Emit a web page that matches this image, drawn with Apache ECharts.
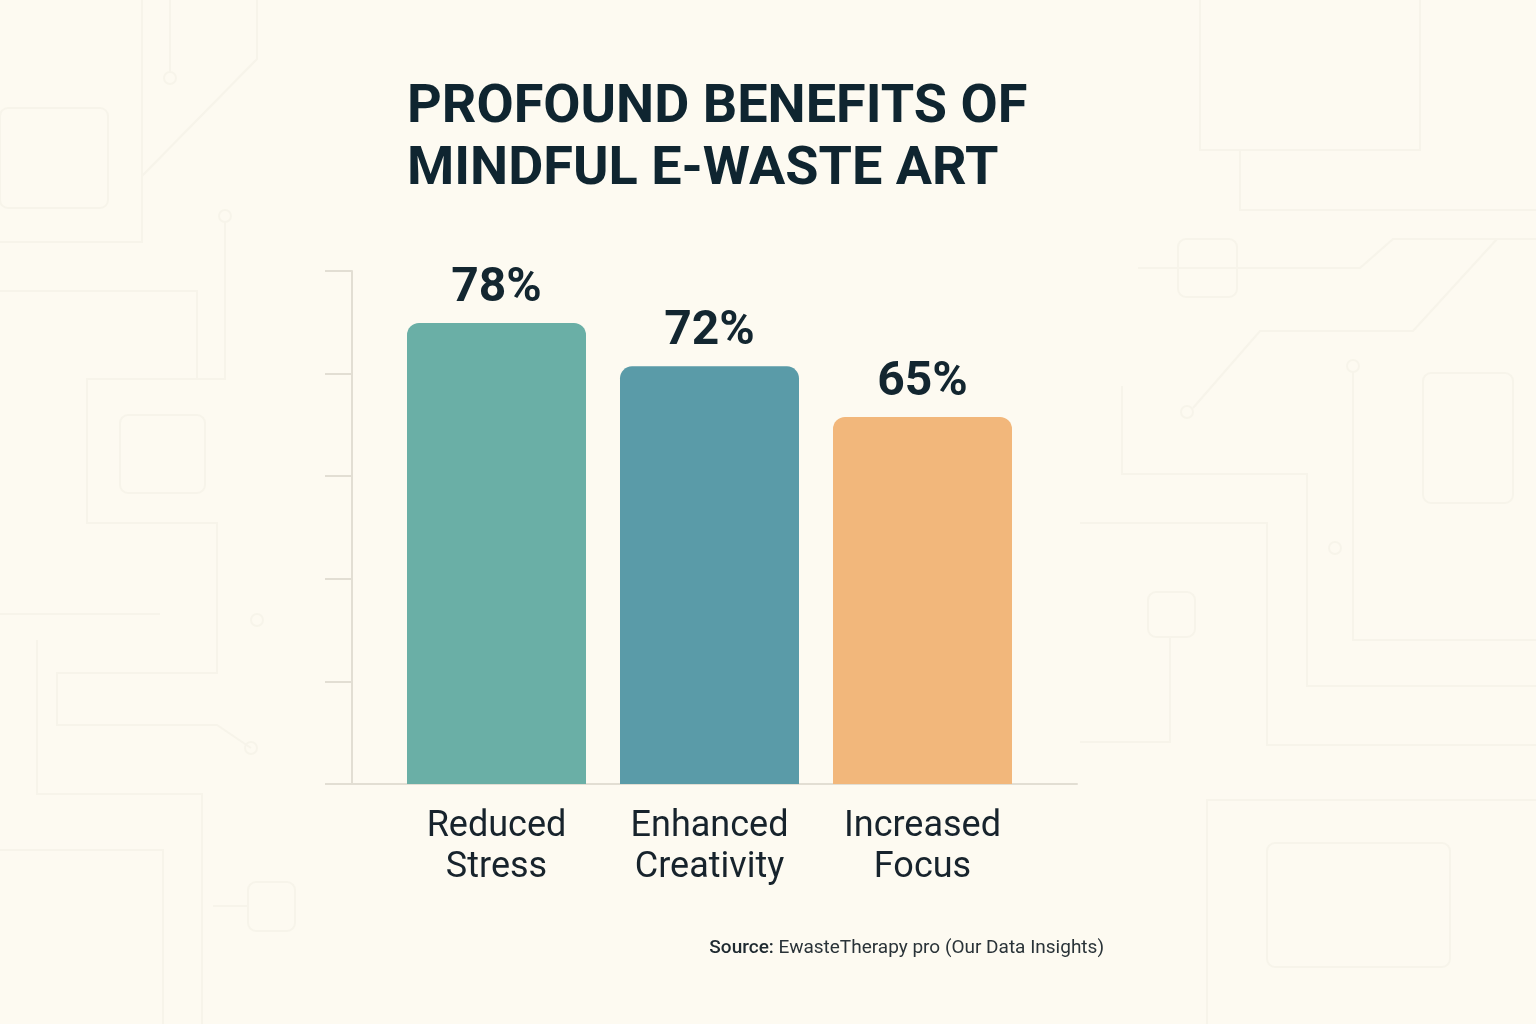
<!DOCTYPE html>
<html>
<head>
<meta charset="utf-8">
<title>Profound Benefits of Mindful E-Waste Art</title>
<script src="https://cdn.jsdelivr.net/npm/echarts@6/dist/echarts.min.js"></script>
<style>
    html, body { margin: 0; padding: 0; background: #fdfaf1; }
    #chart { width: 1536px; height: 1024px; }
</style>
</head>
<body>
<div id="chart"></div>
<script>
// data
const categories = ['Reduced\nStress', 'Enhanced\nCreativity', 'Increased\nFocus'];
const values = [78, 72, 65];
const barColors = ['#6aafa6', '#5a9ba8', '#f2b77b'];

// axis range (the chart's axis does not start at zero)
const axisMin = 14.2;
const axisMax = 85.2;
const axisStep = 14.2;

// faint circuit-board traces in the background (decoration only)
const traces = [
    [[142, 0], [142, 242], [0, 242]],
    [[142, 176], [257, 59], [257, 0]],
    [[170, 0], [170, 72]],
    [[0, 291], [197, 291], [197, 379]],
    [[225, 222], [225, 379], [87, 379], [87, 523], [217, 523], [217, 673], [57, 673], [57, 725], [217, 725], [251, 748]],
    [[0, 614], [160, 614]],
    [[37, 640], [37, 794], [202, 794], [202, 1024]],
    [[0, 850], [163, 850], [163, 1024]],
    [[213, 906], [248, 906]],
    [[1138, 268], [1360, 268], [1393, 239], [1536, 239]],
    [[1193, 408], [1260, 331], [1413, 331], [1497, 239]],
    [[1353, 372], [1353, 640], [1536, 640]],
    [[1122, 386], [1122, 474], [1307, 474], [1307, 686], [1536, 686]],
    [[1080, 523], [1267, 523], [1267, 745], [1536, 745]],
    [[1170, 637], [1170, 742], [1080, 742]],
    [[1207, 1024], [1207, 800], [1536, 800]],
    [[1200, 0], [1200, 150], [1420, 150], [1420, 0]],
    [[1240, 150], [1240, 210], [1536, 210]]
];
const boxes = [
    [0, 108, 108, 100],
    [120, 415, 85, 78],
    [248, 882, 47, 49],
    [1178, 239, 59, 58],
    [1423, 373, 90, 130],
    [1148, 592, 47, 45],
    [1267, 843, 183, 124]
];
const pads = [[170, 78], [225, 216], [257, 620], [251, 748], [1187, 412], [1353, 366], [1335, 548]];

const traceColor = '#f7f4ea';
const decoration = [].concat(
    traces.map(p => ({
        type: 'polyline', silent: true, z: -10,
        shape: { points: p },
        style: { stroke: traceColor, lineWidth: 2, fill: null }
    })),
    boxes.map(b => ({
        type: 'rect', silent: true, z: -10,
        shape: { x: b[0], y: b[1], width: b[2], height: b[3], r: 8 },
        style: { stroke: traceColor, lineWidth: 2, fill: null }
    })),
    pads.map(c => ({
        type: 'circle', silent: true, z: -10,
        shape: { cx: c[0], cy: c[1], r: 6 },
        style: { stroke: traceColor, lineWidth: 2, fill: null }
    }))
);

const chart = echarts.init(document.getElementById('chart'));

const option = {
    animation: false,
    backgroundColor: '#fdfaf1',
    title: {
        text: 'PROFOUND BENEFITS OF\nMINDFUL E-WASTE ART',
        left: 402,
        top: 72,
        textStyle: {
            fontFamily: 'Roboto',
            fontWeight: 'bold',
            fontSize: 54,
            lineHeight: 62,
            color: '#0f2530'
        }
    },
    grid: [
        // axis frame
        { left: 352, right: 459, top: 271, bottom: 240 },
        // bars
        { left: 390, right: 507, top: 271, bottom: 240 }
    ],
    xAxis: [
        {
            gridIndex: 0,
            type: 'category',
            data: categories,
            axisLine: { lineStyle: { color: '#e2ded3', width: 2 } },
            axisTick: { show: false },
            axisLabel: { show: false }
        },
        {
            gridIndex: 1,
            type: 'category',
            data: categories,
            axisLine: { show: false },
            axisTick: { show: false },
            axisLabel: {
                margin: 22,
                fontFamily: 'Roboto',
                fontSize: 36,
                lineHeight: 41,
                color: '#17232c'
            }
        }
    ],
    yAxis: [
        {
            gridIndex: 0,
            type: 'value',
            min: axisMin,
            max: axisMax,
            interval: axisStep,
            axisLine: { show: true, lineStyle: { color: '#e2ded3', width: 2 } },
            axisTick: { show: true, length: 27, lineStyle: { color: '#e2ded3', width: 2 } },
            axisLabel: { show: false },
            splitLine: { show: false }
        },
        {
            gridIndex: 1,
            type: 'value',
            min: axisMin,
            max: axisMax,
            interval: axisStep,
            show: false
        }
    ],
    series: [{
        type: 'bar',
        xAxisIndex: 1,
        yAxisIndex: 1,
        barWidth: 179,
        data: values.map((v, i) => ({
            value: v,
            itemStyle: { color: barColors[i], borderRadius: [12, 12, 0, 0] }
        })),
        label: {
            show: true,
            position: 'top',
            distance: 10,
            formatter: '{c}%',
            fontFamily: 'Roboto',
            fontWeight: 'bold',
            fontSize: 48,
            color: '#132630'
        }
    }],
    graphic: decoration.concat([{
        type: 'text',
        right: 1536 - 1104,
        top: 939,
        style: {
            text: '{b|Source:} EwasteTherapy pro (Our Data Insights)',
            rich: {
                b: { fontFamily: 'Roboto', fontWeight: 500, fontSize: 19, fill: '#1f2a30' }
            },
            font: '19px Roboto',
            fill: '#2a3338'
        }
    }])
};

chart.setOption(option);
</script>
</body>
</html>
